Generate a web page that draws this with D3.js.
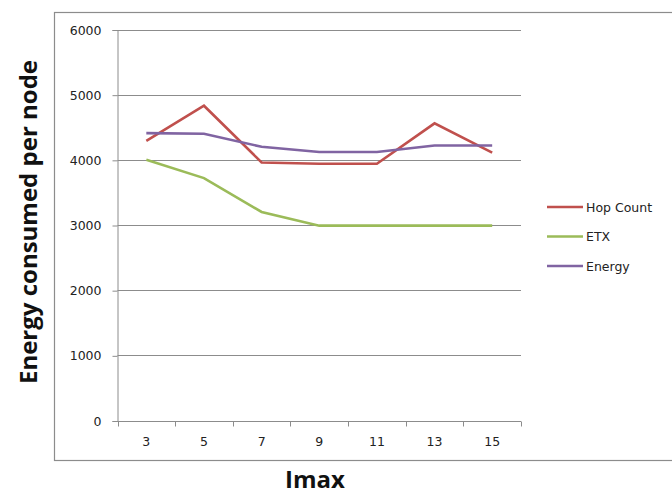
<!DOCTYPE html>
<html>
<head>
<meta charset="utf-8">
<script src="https://cdn.jsdelivr.net/npm/d3@7"></script>
<style>
  body { margin: 0; background: #fff; }
  svg { display: block; }
</style>
</head>
<body>
<svg id="chart"></svg>
<script>
// data
const imax = ["3", "5", "7", "9", "11", "13", "15"];
const hopCount = [4290, 4830, 3960, 3940, 3940, 4560, 4110];
const etx = [4000, 3720, 3200, 2990, 2990, 2990, 2990];
const energy = [4410, 4400, 4200, 4120, 4120, 4220, 4220];
const yTicks = [0, 1000, 2000, 3000, 4000, 5000, 6000];
const seriesNames = ["Hop Count", "ETX", "Energy"];

const width = 672;
const height = 495;
const plot = { left: 117.5, right: 521, top: 29.5, bottom: 420.5 };

const colors = d3.scaleOrdinal().domain(seriesNames).range(["#c0504d", "#9bbb59", "#8064a2"]);

const series = [
  { name: "Hop Count", values: hopCount },
  { name: "ETX", values: etx },
  { name: "Energy", values: energy },
];

const svg = d3.select("#chart").attr("width", width).attr("height", height);

// outer chart frame
svg.append("rect")
  .attr("x", 54.5).attr("y", 12.5)
  .attr("width", 640).attr("height", 448)
  .attr("fill", "none").attr("stroke", "#8c8c8c").attr("stroke-width", 1.2);

const x = d3.scaleBand().domain(imax).range([plot.left, plot.right]).padding(0);
const y = d3.scaleLinear().domain([0, 6000]).range([plot.bottom, plot.top]);

// gridlines
svg.append("g").selectAll("line")
  .data(yTicks.filter(d => d > 0)).enter().append("line")
  .attr("x1", plot.left).attr("x2", plot.right)
  .attr("y1", d => Math.round(y(d)) + 0.5).attr("y2", d => Math.round(y(d)) + 0.5)
  .attr("stroke", "#8c8c8c").attr("stroke-width", 1);

// y axis
const yAxis = svg.append("g")
  .attr("transform", "translate(" + plot.left + ",0.5)")
  .call(d3.axisLeft(y).tickValues(yTicks).tickFormat(d3.format("d")).tickSize(5).tickPadding(11));
yAxis.select(".domain").attr("stroke", "#8c8c8c");
yAxis.selectAll(".tick line").attr("stroke", "#8c8c8c");
yAxis.selectAll("text")
  .attr("font-family", "DejaVu Sans").attr("font-size", 12.5).attr("fill", "#222");

// x axis, ticks between categories
const xAxis = svg.append("g")
  .attr("transform", "translate(0," + (Math.round(plot.bottom) + 0.5) + ")");
xAxis.append("line")
  .attr("x1", plot.left).attr("x2", plot.right)
  .attr("stroke", "#8c8c8c");
xAxis.selectAll(".xtick")
  .data(imax.concat(["end"])).enter().append("line")
  .attr("class", "xtick")
  .attr("x1", (d, i) => Math.round(plot.left + i * x.bandwidth()) + 0.5)
  .attr("x2", (d, i) => Math.round(plot.left + i * x.bandwidth()) + 0.5)
  .attr("y1", 0).attr("y2", 5)
  .attr("stroke", "#8c8c8c");
xAxis.selectAll(".xlabel")
  .data(imax).enter().append("text")
  .attr("class", "xlabel")
  .attr("x", d => x(d) + x.bandwidth() / 2)
  .attr("y", 24)
  .attr("text-anchor", "middle")
  .attr("font-family", "DejaVu Sans").attr("font-size", 12.5).attr("fill", "#222")
  .text(d => d);

// lines
const line = d3.line()
  .x((d, i) => x(imax[i]) + x.bandwidth() / 2)
  .y(d => y(d));

svg.append("g").selectAll("path")
  .data(series).enter().append("path")
  .attr("d", d => line(d.values))
  .attr("fill", "none")
  .attr("stroke", d => colors(d.name))
  .attr("stroke-width", 2.6)
  .attr("stroke-linejoin", "miter");

// legend
const legend = svg.append("g").attr("transform", "translate(547,207)");
const legendRow = legend.selectAll("g")
  .data(seriesNames).enter().append("g")
  .attr("transform", (d, i) => "translate(0," + i * 29.5 + ")");
legendRow.append("line")
  .attr("x1", 0).attr("x2", 36)
  .attr("stroke", d => colors(d)).attr("stroke-width", 2.6);
legendRow.append("text")
  .attr("x", 39).attr("y", 4.5)
  .attr("font-family", "DejaVu Sans").attr("font-size", 12.5).attr("fill", "#222")
  .text(d => d);

// axis titles
svg.append("text")
  .attr("transform", "translate(37,222) rotate(-90)")
  .attr("text-anchor", "middle")
  .attr("font-family", "Open Sans").attr("font-weight", "bold")
  .attr("font-size", 24).attr("fill", "#111")
  .text("Energy consumed per node");

svg.append("text")
  .attr("x", 315).attr("y", 488)
  .attr("text-anchor", "middle")
  .attr("font-family", "Open Sans").attr("font-weight", "bold")
  .attr("font-size", 24).attr("fill", "#111")
  .text("Imax");
</script>
</body>
</html>
